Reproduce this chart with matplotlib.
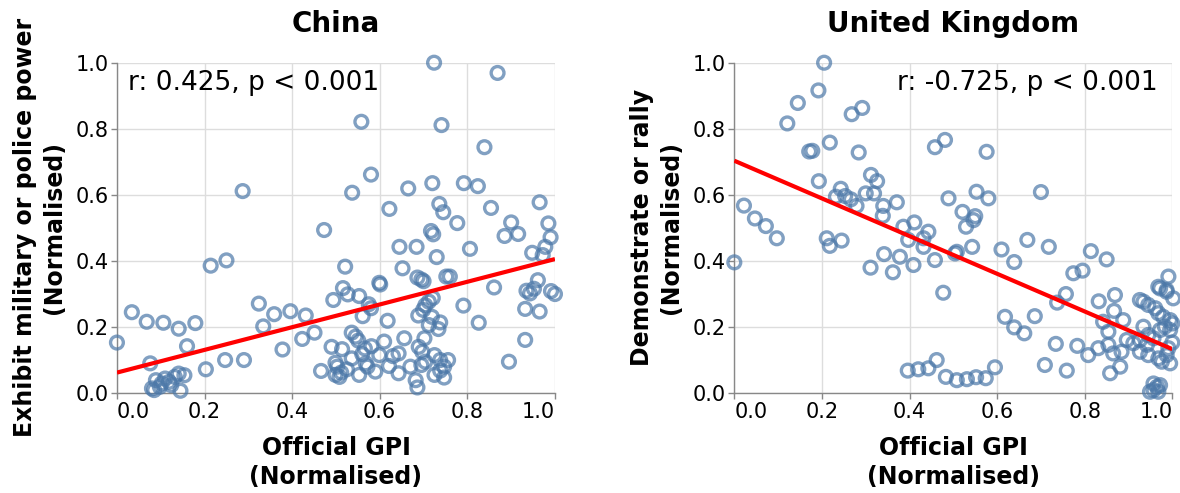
import numpy as np
import matplotlib.pyplot as plt

# China panel: official GPI vs "exhibit military or police power"
china_x = [0.724, 0.869, 0.558, 0.741, 0.839, 0.580, 0.287, 0.537, 0.665, 0.720,
           0.792, 0.824, 0.622, 0.736, 0.745, 0.854, 0.965, 0.777, 0.900, 0.985,
           0.473, 0.717, 0.722, 0.885, 0.916, 0.990, 0.645, 0.684, 0.806, 0.978,
           0.948, 0.972, 0.730, 0.214, 0.250, 0.521, 0.652, 0.599, 0.601, 0.686,
           0.695, 0.700, 0.752, 0.760, 0.961, 0.861, 0.516, 0.527, 0.494, 0.553,
           0.935, 0.943, 0.952, 0.991, 1.000, 0.721, 0.712, 0.704, 0.699, 0.575,
           0.580, 0.324, 0.359, 0.396, 0.431, 0.791, 0.932, 0.965, 0.688, 0.719,
           0.561, 0.618, 0.738, 0.826, 0.712, 0.734, 0.334, 0.034, 0.068, 0.106,
           0.141, 0.179, 0.000, 0.160, 0.076, 0.378, 0.423, 0.451, 0.536, 0.545,
           0.551, 0.490, 0.514, 0.566, 0.581, 0.560, 0.610, 0.656, 0.689, 0.702,
           0.697, 0.725, 0.643, 0.630, 0.599, 0.536, 0.499, 0.503, 0.525, 0.568,
           0.572, 0.621, 0.670, 0.695, 0.704, 0.738, 0.756, 0.747, 0.738, 0.725,
           0.747, 0.643, 0.590, 0.553, 0.466, 0.499, 0.508, 0.512, 0.682, 0.686,
           0.895, 0.932, 0.203, 0.247, 0.290, 0.080, 0.089, 0.102, 0.110, 0.119,
           0.132, 0.141, 0.154, 0.145, 0.085, 0.098, 0.124]
china_y = [1.000, 0.969, 0.821, 0.811, 0.744, 0.661, 0.611, 0.606, 0.619, 0.635,
           0.635, 0.626, 0.557, 0.572, 0.547, 0.560, 0.577, 0.514, 0.516, 0.513,
           0.493, 0.490, 0.480, 0.475, 0.481, 0.471, 0.442, 0.442, 0.436, 0.442,
           0.424, 0.417, 0.411, 0.385, 0.401, 0.382, 0.377, 0.333, 0.328, 0.349,
           0.343, 0.338, 0.352, 0.352, 0.341, 0.319, 0.317, 0.298, 0.281, 0.293,
           0.309, 0.301, 0.315, 0.308, 0.299, 0.287, 0.276, 0.265, 0.251, 0.268,
           0.256, 0.270, 0.238, 0.247, 0.234, 0.264, 0.254, 0.246, 0.234, 0.230,
           0.232, 0.218, 0.213, 0.212, 0.205, 0.193, 0.201, 0.244, 0.215, 0.212,
           0.194, 0.211, 0.152, 0.141, 0.089, 0.131, 0.163, 0.182, 0.182, 0.170,
           0.158, 0.139, 0.132, 0.134, 0.141, 0.117, 0.155, 0.165, 0.139, 0.165,
           0.124, 0.114, 0.119, 0.111, 0.114, 0.104, 0.091, 0.079, 0.071, 0.089,
           0.079, 0.081, 0.079, 0.084, 0.094, 0.099, 0.099, 0.079, 0.067, 0.054,
           0.046, 0.059, 0.064, 0.054, 0.066, 0.054, 0.048, 0.061, 0.038, 0.016,
           0.094, 0.160, 0.071, 0.099, 0.099, 0.013, 0.038, 0.028, 0.043, 0.033,
           0.048, 0.058, 0.053, 0.006, 0.008, 0.018, 0.023]
china_fit_x = [0.0, 1.0]
china_fit_y = [0.061, 0.405]
china_stat = "r: 0.425, p < 0.001"

# United Kingdom panel: official GPI vs "demonstrate or rally"
uk_x = [0.205, 0.192, 0.145, 0.121, 0.268, 0.292, 0.171, 0.178, 0.218, 0.284,
        0.458, 0.481, 0.193, 0.312, 0.326, 0.243, 0.232, 0.253, 0.266, 0.279,
        0.300, 0.319, 0.340, 0.339, 0.371, 0.386, 0.411, 0.443, 0.489, 0.022,
        0.047, 0.072, 0.576, 0.553, 0.580, 0.521, 0.550, 0.529, 0.700, 0.097,
        0.000, 0.211, 0.218, 0.245, 0.311, 0.342, 0.362, 0.378, 0.409, 0.397,
        0.432, 0.432, 0.458, 0.477, 0.396, 0.420, 0.443, 0.462, 0.483, 0.546,
        0.508, 0.504, 0.543, 0.610, 0.639, 0.669, 0.718, 0.814, 0.850, 0.774,
        0.795, 0.618, 0.639, 0.662, 0.686, 0.757, 0.737, 0.734, 0.709, 0.759,
        0.783, 0.808, 0.832, 0.869, 0.867, 0.888, 0.842, 0.854, 0.831, 0.854,
        0.865, 0.884, 0.881, 0.858, 0.508, 0.531, 0.552, 0.574, 0.595, 0.926,
        0.934, 0.945, 0.961, 0.972, 0.991, 0.987, 1.002, 0.968, 0.979, 0.995,
        1.000, 0.983, 0.995, 0.934, 0.945, 0.957, 0.972, 0.926, 0.942, 0.911,
        0.896, 0.926, 0.945, 0.968, 0.987, 0.995, 0.976, 1.000, 0.991, 0.968,
        0.987, 0.957, 0.965, 0.968, 0.957, 0.972, 0.949]
uk_y = [1.000, 0.916, 0.878, 0.816, 0.844, 0.863, 0.731, 0.733, 0.758, 0.728,
        0.744, 0.766, 0.641, 0.660, 0.641, 0.618, 0.594, 0.596, 0.586, 0.566,
        0.604, 0.604, 0.566, 0.536, 0.577, 0.503, 0.516, 0.488, 0.589, 0.567,
        0.528, 0.505, 0.730, 0.609, 0.589, 0.548, 0.535, 0.503, 0.608, 0.468,
        0.395, 0.468, 0.445, 0.461, 0.379, 0.420, 0.365, 0.412, 0.387, 0.463,
        0.442, 0.468, 0.402, 0.303, 0.067, 0.071, 0.074, 0.099, 0.048, 0.523,
        0.427, 0.422, 0.442, 0.434, 0.396, 0.463, 0.442, 0.429, 0.404, 0.362,
        0.370, 0.230, 0.198, 0.180, 0.232, 0.299, 0.273, 0.148, 0.084, 0.067,
        0.142, 0.114, 0.277, 0.296, 0.248, 0.220, 0.215, 0.185, 0.135, 0.145,
        0.119, 0.124, 0.079, 0.059, 0.038, 0.041, 0.047, 0.044, 0.077, 0.281,
        0.276, 0.266, 0.256, 0.316, 0.352, 0.311, 0.286, 0.241, 0.230, 0.220,
        0.210, 0.200, 0.190, 0.200, 0.175, 0.165, 0.190, 0.160, 0.145, 0.150,
        0.160, 0.124, 0.114, 0.104, 0.114, 0.089, 0.094, 0.152, 0.135, 0.321,
        0.306, 0.028, 0.018, 0.003, 0.008, 0.023, 0.003]
uk_fit_x = [0.0, 1.0]
uk_fit_y = [0.703, 0.132]
uk_stat = "r: -0.725, p < 0.001"

ticks = [0.0, 0.2, 0.4, 0.6, 0.8, 1.0]
tick_labels = ["0.0", "0.2", "0.4", "0.6", "0.8", "1.0"]

point_col = (76/255, 120/255, 168/255, 0.7)
grey = "#888888"

fig = plt.figure(figsize=(11.8, 4.93), dpi=100)


def panel(rect, x, y, fx, fy, title, ylabel, stat, stat_right):
    ax = fig.add_axes(rect)
    ax.set_xlim(0, 1)
    ax.set_ylim(0, 1)
    ax.set_xticks(ticks)
    ax.set_yticks(ticks)
    ax.set_xticklabels(tick_labels)
    ax.set_yticklabels(tick_labels)
    ax.grid(True, color="#dddddd", lw=1.0, zorder=0)
    ax.set_axisbelow(True)
    for s in ["top", "right"]:
        ax.spines[s].set_visible(False)
    for s in ["left", "bottom"]:
        ax.spines[s].set_color(grey)
        ax.spines[s].set_linewidth(1.0)
    ax.tick_params(colors=grey, length=4, width=1.0, labelcolor="black",
                   labelsize=15)
    ax.tick_params(axis="x", pad=3)
    ax.tick_params(axis="y", pad=2)
    xl = ax.get_xticklabels()
    xl[0].set_ha("left")
    xl[-1].set_ha("right")

    ax.scatter(x, y, s=85, facecolors="none", edgecolors=point_col,
               linewidths=2.4, clip_on=False, zorder=3)
    ax.plot(fx, fy, color="red", lw=3, zorder=4, solid_capstyle="butt")

    ax.set_title(title, fontsize=20, fontweight="bold", pad=22)
    ax.set_xlabel("Official GPI\n(Normalised)", fontsize=17,
                  fontweight="bold", labelpad=10, linespacing=1.25)
    ax.set_ylabel(ylabel, fontsize=17, fontweight="bold", labelpad=7,
                  linespacing=1.25)
    if stat_right:
        ax.text(0.967, 0.938, stat, transform=ax.transAxes, ha="right",
                va="center", fontsize=19, zorder=5)
    else:
        ax.text(0.025, 0.938, stat, transform=ax.transAxes, ha="left",
                va="center", fontsize=19, zorder=5)
    return ax


panel([0.0991, 0.2034, 0.3712, 0.6694], china_x, china_y,
      china_fit_x, china_fit_y, "China",
      "Exhibit military or police power\n(Normalised)", china_stat, False)
panel([0.6223, 0.2034, 0.3712, 0.6694], uk_x, uk_y,
      uk_fit_x, uk_fit_y, "United Kingdom",
      "Demonstrate or rally\n(Normalised)", uk_stat, True)

fig.savefig("out.png", dpi=100)
